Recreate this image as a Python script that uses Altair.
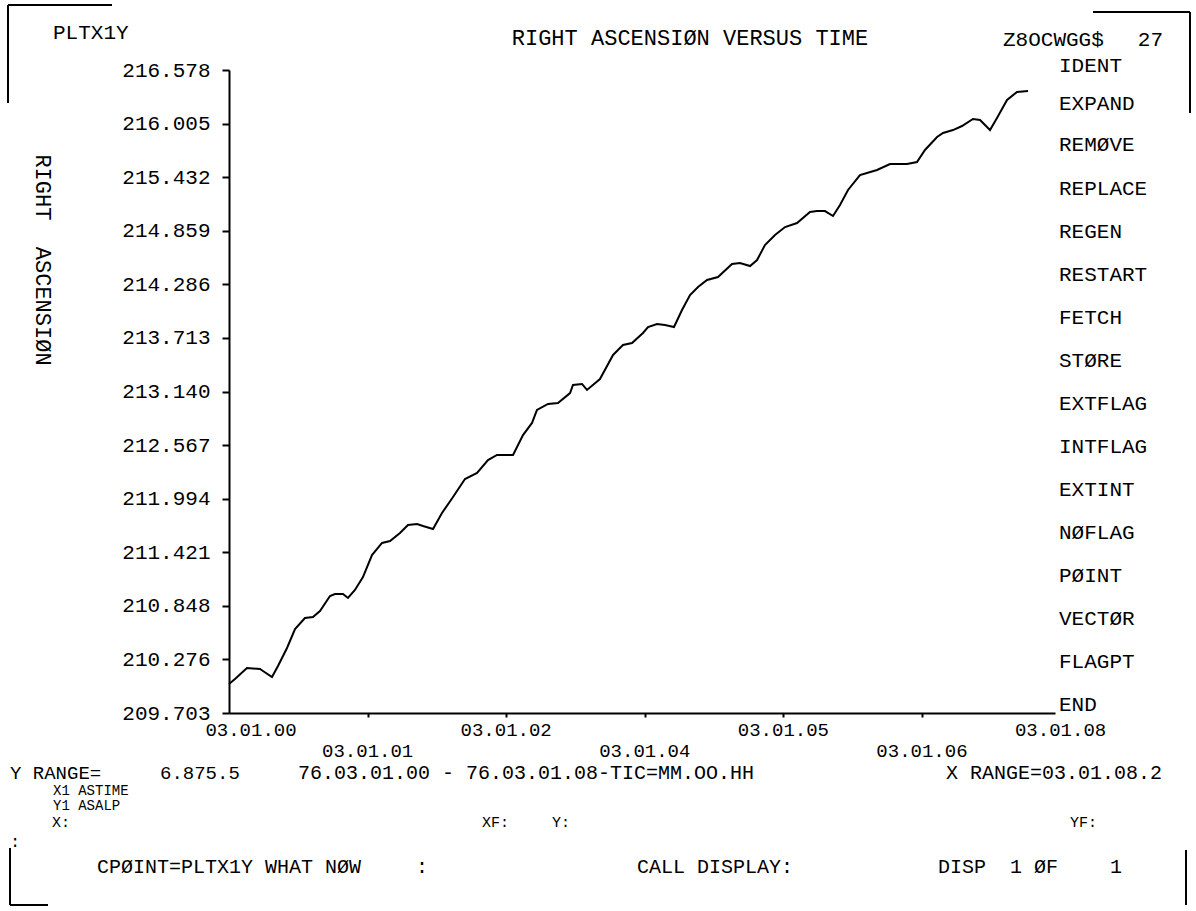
import altair as alt
import pandas as pd

# Right ascension (deg) against time (hours after 03.01.00)
hours = [0.000, 0.059, 0.177, 0.306, 0.335, 0.424, 0.483, 0.572, 0.651, 0.749,
         0.828, 0.897, 0.996, 1.045, 1.124, 1.173, 1.242, 1.321, 1.410, 1.509,
         1.588, 1.686, 1.765, 1.854, 1.913, 2.012, 2.100, 2.209, 2.327, 2.446,
         2.554, 2.643, 2.801, 2.899, 2.988, 3.037, 3.146, 3.244, 3.363, 3.392,
         3.481, 3.530, 3.658, 3.787, 3.885, 3.974, 4.082, 4.132, 4.220, 4.299,
         4.388, 4.467, 4.546, 4.625, 4.714, 4.822, 4.960, 5.039, 5.138, 5.207,
         5.285, 5.384, 5.483, 5.601, 5.729, 5.798, 5.877, 5.956, 6.025, 6.104,
         6.222, 6.291, 6.390, 6.518, 6.686, 6.784, 6.863, 6.982, 7.041, 7.139,
         7.228, 7.336, 7.406, 7.504, 7.573, 7.672, 7.770, 7.879]
ra = [210.013, 210.067, 210.184, 210.173, 210.152, 210.088, 210.206, 210.398, 210.601, 210.719,
      210.729, 210.794, 210.954, 210.975, 210.975, 210.933, 211.018, 211.157, 211.392, 211.521,
      211.542, 211.628, 211.713, 211.724, 211.702, 211.670, 211.841, 212.012, 212.205, 212.269,
      212.408, 212.462, 212.462, 212.675, 212.804, 212.943, 213.007, 213.018, 213.124, 213.210,
      213.221, 213.157, 213.274, 213.531, 213.638, 213.659, 213.766, 213.830, 213.862, 213.851,
      213.830, 214.012, 214.172, 214.258, 214.333, 214.365, 214.504, 214.514, 214.482, 214.546,
      214.707, 214.814, 214.899, 214.942, 215.060, 215.070, 215.070, 215.017, 215.135, 215.295,
      215.455, 215.477, 215.509, 215.573, 215.573, 215.594, 215.723, 215.862, 215.904, 215.936,
      215.979, 216.054, 216.043, 215.936, 216.065, 216.257, 216.343, 216.353]

y_ticks = [209.703, 210.276, 210.848, 211.421, 211.994, 212.567, 213.140,
           213.713, 214.286, 214.859, 215.432, 216.005, 216.578]
x_tick_hours = [0.0, 1.367, 2.733, 4.100, 5.467, 6.833, 8.200]
x_tick_labels = ["03.01.00", "03.01.01", "03.01.02", "03.01.04",
                 "03.01.05", "03.01.06", "03.01.08"]
menu_items = ["IDENT", "EXPAND", "REMØVE", "REPLACE", "REGEN", "RESTART",
              "FETCH", "STØRE", "EXTFLAG", "INTFLAG", "EXTINT", "NØFLAG",
              "PØINT", "VECTØR", "FLAGPT", "END"]

FONT = "Liberation Mono"
INK = "black"
NB = "\u00a0"  # keeps runs of spaces in SVG text

# page layout: plot area sits at (LEFT, TOP) on a 1196 x 911 page
LEFT, TOP, W, H = 229, 70, 826, 643
PAGE_W, PAGE_H = 1196, 911

one = pd.DataFrame({"k": [0]})

xs = alt.Scale(domain=[0, 8.145], nice=False, zero=False)
ys = alt.Scale(domain=[y_ticks[0], y_ticks[-1]], nice=False, zero=False)
x_axis = alt.Axis(values=x_tick_hours[1:6], labels=False, title=None, grid=False,
                  tickSize=4, tickWidth=2, tickColor=INK, domainColor=INK, domainWidth=2)
y_axis = alt.Axis(values=y_ticks, format=".3f", title=None, grid=False,
                  tickSize=7, tickWidth=2, tickColor=INK, domainColor=INK, domainWidth=2,
                  labelFont=FONT, labelFontSize=21, labelColor=INK, labelPadding=12)


def txt(s, px, py, size=21, align="left", angle=0):
    return alt.Chart(one).mark_text(
        text=s.replace(" ", NB), align=align, baseline="middle", font=FONT,
        fontSize=size, angle=angle, color=INK
    ).encode(x=alt.value(px - LEFT), y=alt.value(py - TOP))


def seg(x1, y1, x2, y2):
    return alt.Chart(one).mark_rule(color=INK, strokeWidth=2).encode(
        x=alt.value(x1 - LEFT), y=alt.value(y1 - TOP),
        x2=alt.value(x2 - LEFT), y2=alt.value(y2 - TOP))


curve = alt.Chart(pd.DataFrame({"hours": hours, "ra": ra})).mark_line(
    color=INK, strokeWidth=2
).encode(
    x=alt.X("hours:Q", scale=xs, axis=x_axis),
    y=alt.Y("ra:Q", scale=ys, axis=y_axis),
    order="hours:Q",
)

ticks_df = pd.DataFrame({"hours": x_tick_hours, "label": x_tick_labels,
                         "row": [1, 2, 1, 2, 1, 2, 1]})


def tick_row(df, py, dx=0):
    return alt.Chart(df).mark_text(
        align="center", baseline="middle", font=FONT, fontSize=19, color=INK, dx=dx
    ).encode(x=alt.X("hours:Q", scale=xs, axis=x_axis),
             y=alt.value(py - TOP), text="label:N")


row1 = tick_row(ticks_df[(ticks_df.row == 1) & (ticks_df.hours > 0)], 730)
row2 = tick_row(ticks_df[ticks_df.row == 2], 751)
first = tick_row(ticks_df[ticks_df.hours == 0], 730, dx=22)

layers = [curve, row1, row2, first]

# header line
layers += [
    txt("PLTX1Y", 53, 33),
    txt("RIGHT ASCENSIØN VERSUS TIME", 690, 38, size=22, align="center"),
    txt("Z8OCWGG$", 1003, 40),
    txt("27", 1163, 40, align="right"),
]

# vertical axis caption
layers.append(txt("RIGHT  ASCENSIØN", 43, 260, size=22, align="center", angle=90))

# command menu down the right side
menu_y = [66, 104, 145, 189, 232, 275, 318, 361, 404, 447, 490, 533, 576, 619, 662, 705]
for item, py in zip(menu_items, menu_y):
    layers.append(txt(item, 1059, py))

# status lines under the plot
layers += [
    txt("Y RANGE=", 10, 773, size=19),
    txt("6.875.5", 160, 773, size=19),
    txt("76.03.01.00 - 76.03.01.08-TIC=MM.OO.HH", 298, 773, size=20),
    txt("X RANGE=03.01.08.2", 1162, 773, size=20, align="right"),
    txt("X1 ASTIME", 53, 791, size=14),
    txt("Y1 ASALP", 53, 806, size=14),
    txt("X:", 52, 822, size=15),
    txt("XF:", 482, 822, size=15),
    txt("Y:", 552, 822, size=15),
    txt("YF:", 1070, 822, size=15),
    txt(":", 10, 842, size=17),
    txt("CPØINT=PLTX1Y WHAT NØW", 97, 867, size=20),
    txt(":", 416, 867, size=20),
    txt("CALL DISPLAY:", 637, 867, size=20),
    txt("DISP", 938, 867, size=20),
    txt("1 ØF", 1010, 867, size=20),
    txt("1", 1110, 867, size=20),
]

# screen frame corners
layers += [
    seg(8, 5, 112, 5), seg(8, 5, 8, 103),
    seg(1093, 12, 1190, 12), seg(1190, 12, 1190, 113),
    seg(10, 848, 10, 905), seg(10, 905, 48, 905),
    seg(1186, 850, 1186, 905),
]

chart = alt.layer(*layers).properties(
    width=W, height=H,
    padding={"left": LEFT, "top": TOP, "right": PAGE_W - LEFT - W, "bottom": PAGE_H - TOP - H},
    autosize=alt.AutoSizeParams(type="none"),
    background="white",
).configure_view(stroke=None)

chart.save("out.html", embed_options={"renderer": "svg", "actions": False})
